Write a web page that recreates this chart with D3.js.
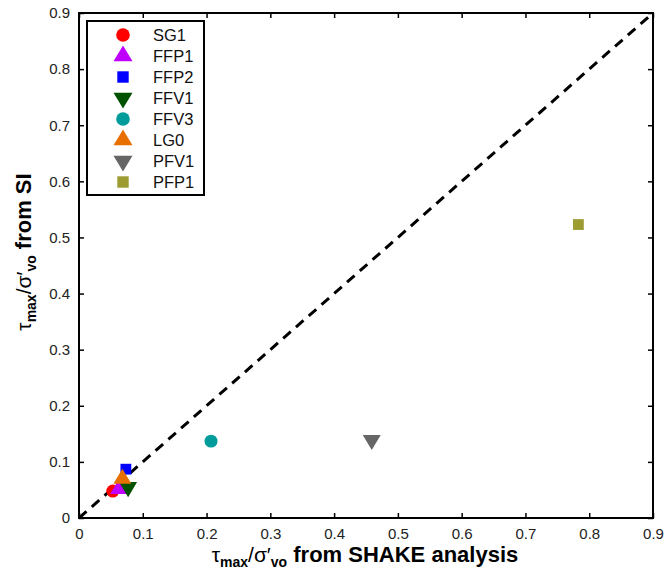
<!DOCTYPE html>
<html><head><meta charset="utf-8">
<script src="https://cdn.jsdelivr.net/npm/d3@7"></script>
<style>body{margin:0;background:#fff}svg{display:block;font-family:"Liberation Sans",Arial,sans-serif}</style>
</head><body><svg id="c" width="667" height="575"></svg>
<script>
const seriesNames = ["SG1","FFP1","FFP2","FFV1","FFV3","LG0","PFV1","PFP1"];
const shakeValues = [0.053,0.063,0.0735,0.077,0.207,0.068,0.459,0.783];
const siValues    = [0.048,0.052,0.087,0.055,0.137,0.07,0.139,0.523];
const markerShapes = ["circle","up","square","down","circle","up","down","square"];
const markerColors = ["#ff0000","#bf00ff","#0000ff","#005200","#009c9c","#e87000","#666666","#9c9c33"];
const tickValues = [0,0.1,0.2,0.3,0.4,0.5,0.6,0.7,0.8,0.9];
const tickLabels = ["0","0.1","0.2","0.3","0.4","0.5","0.6","0.7","0.8","0.9"];

const svg = d3.select("#c");
const L=79,R=653,T=13,B=518;
const x = d3.scaleLinear().domain([0,0.9]).range([L,R]);
const y = d3.scaleLinear().domain([0,0.9]).range([B,T]);

svg.append("line").attr("x1",x(0)).attr("y1",y(0)).attr("x2",x(0.9)).attr("y2",y(0.9))
  .attr("stroke","#000").attr("stroke-width",3).attr("stroke-dasharray","10,7");

function marker(g, shape, color, size){
  if(shape==="circle") g.append("circle").attr("r",size*0.36).attr("fill",color);
  else if(shape==="square") g.append("rect").attr("x",-size*0.3).attr("y",-size*0.3).attr("width",size*0.6).attr("height",size*0.6).attr("fill",color);
  else {
    const w=size*0.5, h=size*0.42;
    const pts = shape==="up" ? [[-w,h*0.67],[w,h*0.67],[0,-h*1.33]] : [[-w,-h*0.67],[w,-h*0.67],[0,h*1.33]];
    g.append("path").attr("d",d3.line()(pts)+"Z").attr("fill",color);
  }
}

seriesNames.forEach((n,i)=>{
  const g = svg.append("g").attr("transform",`translate(${x(shakeValues[i])},${y(siValues[i])})`);
  marker(g, markerShapes[i], markerColors[i], 18);
});

const fmt = (d)=>tickLabels[tickValues.indexOf(d)];
const ax = svg.append("g").attr("transform",`translate(0,${B})`).call(d3.axisBottom(x).tickValues(tickValues).tickFormat(fmt).tickSize(-5).tickPadding(10));
const axT = svg.append("g").attr("transform",`translate(0,${T})`).call(d3.axisTop(x).tickValues(tickValues).tickFormat("").tickSize(-5));
const ay = svg.append("g").attr("transform",`translate(${L},0)`).call(d3.axisLeft(y).tickValues(tickValues).tickFormat(fmt).tickSize(-5).tickPadding(9));
const ayR = svg.append("g").attr("transform",`translate(${R},0)`).call(d3.axisRight(y).tickValues(tickValues).tickFormat("").tickSize(-5));
[ax,axT,ay,ayR].forEach(a=>{
  a.select(".domain").remove();
  a.selectAll(".tick line").attr("stroke","#000").attr("stroke-width",1.5);
  a.selectAll("text").attr("font-size",15).attr("fill","#222").attr("font-family","Liberation Sans, Arial, sans-serif");
});
svg.append("rect").attr("x",L).attr("y",T).attr("width",R-L).attr("height",B-T)
  .attr("fill","none").attr("stroke","#000").attr("stroke-width",2);

const lg = svg.append("g");
lg.append("rect").attr("x",87).attr("y",21).attr("width",117).attr("height",174)
  .attr("fill","#fff").attr("stroke","#000").attr("stroke-width",2);
seriesNames.forEach((n,i)=>{
  const yy = 35 + i*21;
  const g = lg.append("g").attr("transform",`translate(123,${yy})`);
  marker(g, markerShapes[i], markerColors[i], 19);
  lg.append("text").attr("x",153).attr("y",yy).attr("dy","0.36em").attr("font-size",16.5).attr("fill","#111").text(n);
});

function label(t, parts){
  parts.forEach(p=>{
    const ts = t.append("tspan").text(p.t);
    if(p.sub){ ts.attr("baseline-shift","-38%").attr("font-size",14).attr("font-weight","bold"); }
    else if(p.bold){ ts.attr("font-weight","bold").attr("font-size",22); }
  });
}
const xl = svg.append("text").attr("x",365).attr("y",562).attr("text-anchor","middle").attr("font-size",21);
label(xl,[{t:"τ"},{t:"max",sub:true},{t:"/σ′"},{t:"vo",sub:true},{t:" from SHAKE analysis",bold:true}]);
const yl = svg.append("text").attr("transform","translate(31,252) rotate(-90)").attr("text-anchor","middle").attr("font-size",21);
label(yl,[{t:"τ"},{t:"max",sub:true},{t:"/σ′"},{t:"vo",sub:true},{t:" from SI",bold:true}]);
</script></body></html>
